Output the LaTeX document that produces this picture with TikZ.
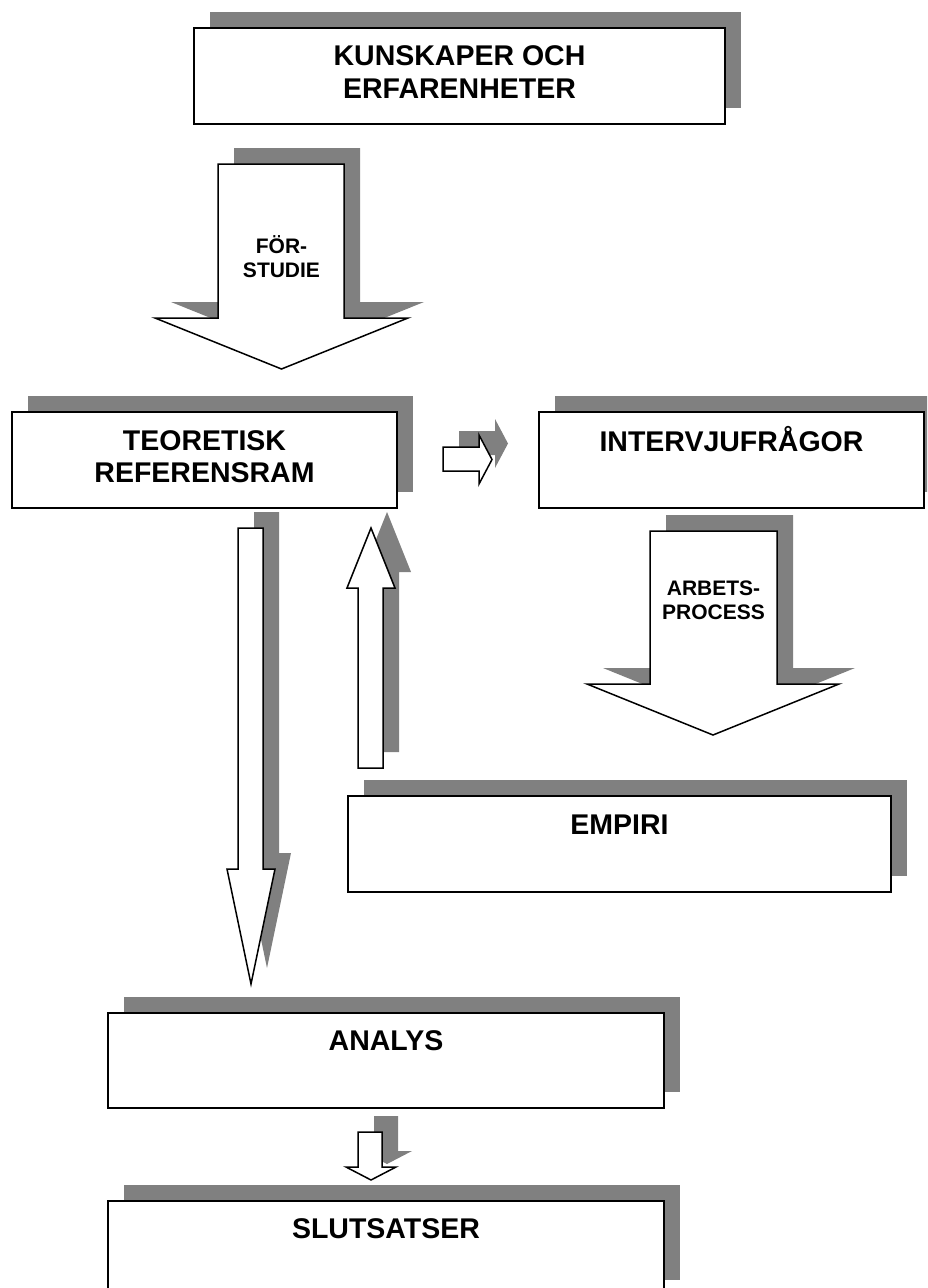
\documentclass[tikz,border=0pt]{standalone}
\usepackage{fontspec}
\setmainfont{Liberation Sans}
\usetikzlibrary{shadows}

\definecolor{shadowgrey}{RGB}{128,128,128}

\tikzset{
  frame/.style={draw=black, line width=2pt, fill=white, anchor=north west,
    inner sep=0pt,
    drop shadow={shadow xshift=16pt, shadow yshift=16.5pt, opacity=1, fill=shadowgrey}},
  boxtext/.style={font=\fontsize{28.5}{32}\selectfont\bfseries, align=center, inner sep=0pt},
  arrowtext/.style={font=\fontsize{21}{24}\selectfont\bfseries, align=center, inner sep=0pt},
  blockarrow/.style={draw=black, fill=white, line width=1.5pt, line join=miter},
  blockshadow/.style={fill=shadowgrey, shift={(16,-16)}},
}

% vertical block arrow: shaft left, shaft right, shaft end, head base, head left, head right, tip
\newcommand{\vblock}[7]{%
  \path[blockshadow] (#1,#3) -- (#2,#3) -- (#2,#4) -- (#6,#4) -- ({(#5+#6)/2},#7)
    -- (#5,#4) -- (#1,#4) -- cycle;
  \path[blockarrow] (#1,#3) -- (#2,#3) -- (#2,#4) -- (#6,#4) -- ({(#5+#6)/2},#7)
    -- (#5,#4) -- (#1,#4) -- cycle;
}
% horizontal block arrow: shaft top, shaft bottom, shaft end, head base, head top, head bottom, tip
\newcommand{\hblock}[7]{%
  \path[blockshadow] (#3,#1) -- (#4,#1) -- (#4,#5) -- (#7,{(#5+#6)/2}) -- (#4,#6)
    -- (#4,#2) -- (#3,#2) -- cycle;
  \path[blockarrow] (#3,#1) -- (#4,#1) -- (#4,#5) -- (#7,{(#5+#6)/2}) -- (#4,#6)
    -- (#4,#2) -- (#3,#2) -- cycle;
}

\begin{document}
\begin{tikzpicture}[x=1pt, y=-1pt]
\useasboundingbox (0,0) rectangle (927,1288);
\clip (0,0) rectangle (927,1288);

% boxes
\node[frame, minimum width=531pt, minimum height=96pt] (kunskap)    at (193,27)   {};
\node[frame, minimum width=385pt, minimum height=96pt] (teoretisk)  at (11,411)   {};
\node[frame, minimum width=385pt, minimum height=96pt] (intervju)   at (538,411)  {};
\node[frame, minimum width=543pt, minimum height=96pt] (empiri)     at (347,795)  {};
\node[frame, minimum width=556pt, minimum height=95pt] (analys)     at (107,1012) {};
\node[frame, minimum width=556pt, minimum height=95pt] (slutsatser) at (107,1200) {};

% box captions
\node[boxtext] (kunskapT)    at ([yshift=3.5pt]kunskap.center) {KUNSKAPER OCH\\[1pt]ERFARENHETER};
\node[boxtext] (teoretiskT)  at ([yshift=3pt]teoretisk.center) {TEORETISK\\REFERENSRAM};
\node[boxtext] (intervjuT)   at ([yshift=-31pt]intervju.north) {INTERVJUFR\smash{Å}GOR};
\node[boxtext] (empiriT)     at ([yshift=-30pt]empiri.north) {EMPIRI};
\node[boxtext] (analysT)     at ([yshift=-29pt]analys.north) {ANALYS};
\node[boxtext] (slutsatserT) at ([yshift=-29pt]slutsatser.north) {SLUTSATSER};

% block arrows
\vblock{218}{344}{164}{318}{155}{408}{369}    % pre-study
\vblock{650}{777}{531}{684}{587}{839}{735}    % work process
\vblock{238}{263}{528}{869}{227}{275}{984}    % theory down to analysis
\vblock{358}{383}{768}{588}{347}{395}{528}    % empirical data back to theory
\vblock{358}{382}{1132}{1167}{346}{396}{1180} % analysis to conclusions
\hblock{447}{471}{443}{479}{435}{484}{492}    % theory to interview questions

% arrow captions
\node[arrowtext] (forstudieT) at (281.5,258) {F\smash{Ö}R-\\STUDIE};
\node[arrowtext] (arbetsT)    at (713.5,600) {ARBETS-\\PROCESS};
\end{tikzpicture}
\end{document}
